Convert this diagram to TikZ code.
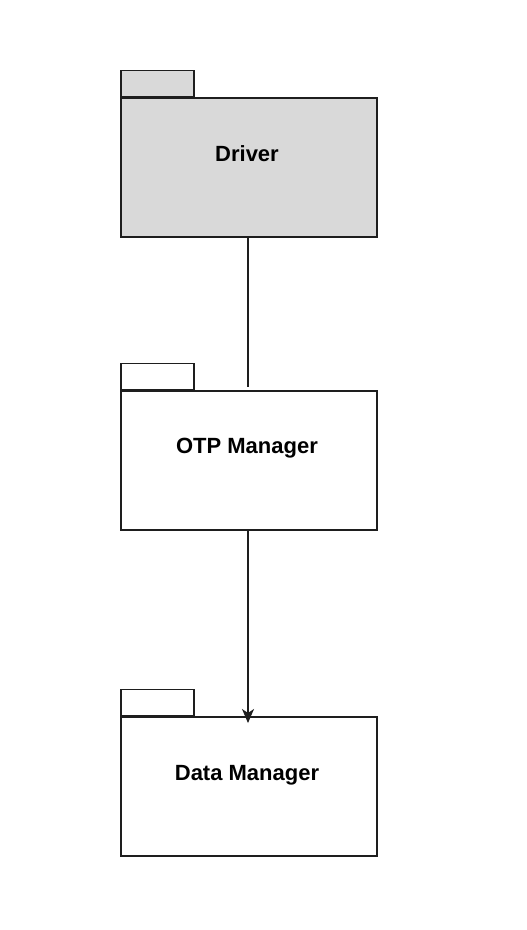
\documentclass[tikz,border=0pt]{standalone}
\usepackage{fontspec}
\setmainfont{Liberation Sans}
\usetikzlibrary{arrows.meta}
\definecolor{pkgfill}{RGB}{217,217,217}
\definecolor{pkgline}{RGB}{30,30,30}
\tikzset{
  pkgbody/.style={draw=pkgline, line width=1.5pt, rectangle, minimum width=256pt, minimum height=139pt, inner sep=0pt, anchor=north west},
  pkgtab/.style={draw=pkgline, line width=1.5pt, rectangle, minimum width=73pt, minimum height=26pt, inner sep=0pt, anchor=south west},
  pkglabel/.style={font=\bfseries\fontsize{22}{26}\selectfont, inner sep=0pt},
  conn/.style={draw=pkgline, line width=1.3pt},
}
\begin{document}
\begin{tikzpicture}[x=1pt,y=-1pt]
\useasboundingbox (0,0) rectangle (527,930);
% Driver
\node[pkgbody, fill=pkgfill] (drv) at (120,97) {};
\node[pkgtab, fill=pkgfill] (drvtab) at (120,97) {};
\node[pkglabel] (drvlbl) at (247,154) {Driver};
% OTP Manager
\node[pkgbody, fill=white] (otp) at (120,390) {};
\node[pkgtab, fill=white] (otptab) at (120,390) {};
\node[pkglabel] (otplbl) at (247,448) {OTP Manager};
% Data Manager
\node[pkgbody, fill=white] (dat) at (120,716) {};
\node[pkgtab, fill=white] (dattab) at (120,716) {};
\node[pkglabel] (datlbl) at (247,775) {Data Manager};
% connectors
\coordinate (e1) at (248,386.5);
\coordinate (e2) at (248,723);
\draw[conn] (drv.south -| e1) -- (e1);
\draw[conn, -{Stealth[length=14pt,width=12pt,inset=4pt]}] (otp.south -| e2) -- (e2);
\end{tikzpicture}
\end{document}
